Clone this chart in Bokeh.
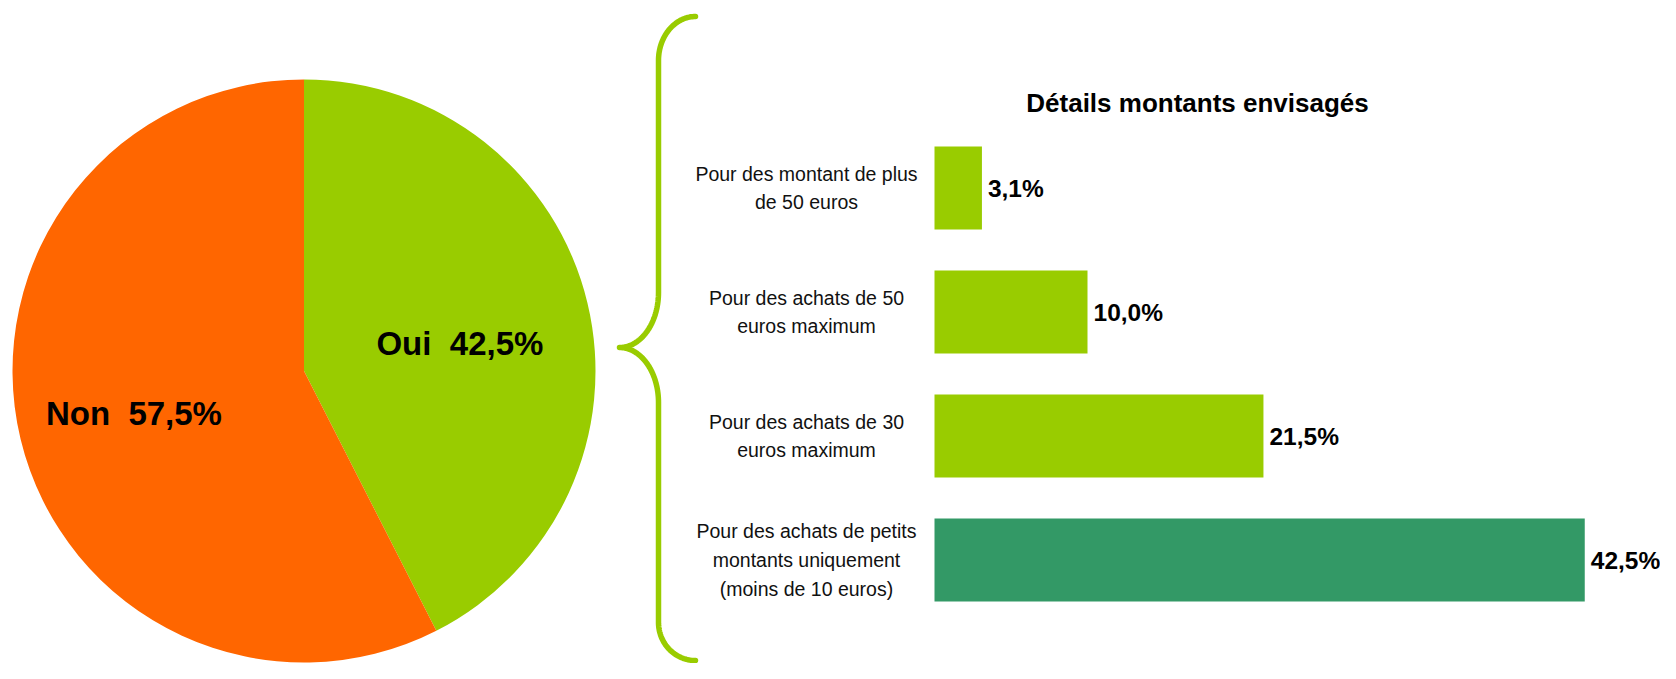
import numpy as np
from bokeh.plotting import figure
from bokeh.models import Range1d, ColumnDataSource
from bokeh.layouts import row
from bokeh.core.properties import value
from bokeh.embed import file_html
from bokeh.resources import INLINE

# ---------------- data ----------------
pie_labels = ["Oui", "Non"]
pie_values = [42.5, 57.5]
pie_colors = ["#99CC00", "#FF6600"]

bar_title = "Détails montants envisagés"
bar_categories = [
    "Pour des montant de plus\nde 50 euros",
    "Pour des achats de 50\neuros maximum",
    "Pour des achats de 30\neuros maximum",
    "Pour des achats de petits\nmontants uniquement\n(moins de 10 euros)",
]
bar_values = [3.1, 10.0, 21.5, 42.5]
bar_colors = ["#99CC00", "#99CC00", "#99CC00", "#339966"]

FONT = value("Liberation Sans")
H = 663
CX, CY = 303.5, 370.5   # pie centre in pixels from top-left
R = 291.5


def fmt(v):
    return f"{v:.1f}%".replace(".", ",")


# ---------------- pie ----------------
WA = 600
pA = figure(width=WA, height=H, x_range=Range1d(-CX, WA - CX),
            y_range=Range1d(CY - H, CY),
            output_backend="svg", toolbar_location=None,
            x_axis_location=None, y_axis_location=None, min_border=0)
pA.outline_line_color = None
pA.xgrid.visible = False
pA.ygrid.visible = False

fr = np.array(pie_values) / sum(pie_values)
cum = np.concatenate([[0.0], np.cumsum(fr)])
start = np.pi / 2 - 2 * np.pi * cum[:-1]
end = np.pi / 2 - 2 * np.pi * cum[1:]
mid = (start + end) / 2
lab_r = np.array([0.55, 0.60]) * R
pie_src = ColumnDataSource(dict(
    start=start, end=end, color=pie_colors,
    lx=lab_r * np.cos(mid), ly=lab_r * np.sin(mid),
    dy=[10, 2],
    txt=[f"{l}\u00a0 {fmt(v)}" for l, v in zip(pie_labels, pie_values)],
))
pA.wedge(x=0, y=0, radius=R, start_angle="start", end_angle="end",
         direction="clock", fill_color="color", line_color=None, source=pie_src)
pA.text(x="lx", y="ly", text="txt", source=pie_src, y_offset="dy",
        text_align="center", text_baseline="middle", text_font=FONT,
        text_font_style="bold", text_font_size="33px", text_color="black")

# ---------------- bars (with brace) ----------------
XB = 600
WB = 1660 - XB
PXU = 15.3      # pixels per percent
X0 = 934 - XB   # pixel position of 0 %
PITCH = 124
TOP = 187.5
y_end = -TOP / PITCH
y_start = y_end + H / PITCH
pB = figure(width=WB, height=H, x_range=Range1d(-X0 / PXU, (WB - X0) / PXU),
            y_range=Range1d(start=y_start, end=y_end),
            output_backend="svg", toolbar_location=None,
            x_axis_location=None, y_axis_location=None, min_border=0)
pB.outline_line_color = None
pB.xgrid.visible = False
pB.ygrid.visible = False

# brace, drawn in the pie's pixel frame
pB.extra_x_ranges = {"px": Range1d(XB - CX, XB + WB - CX)}
pB.extra_y_ranges = {"px": Range1d(CY - H, CY)}


def arc(cx, cy, a, b, t0, t1, n=40):
    t = np.radians(np.linspace(t0, t1, n))
    return cx + a * np.cos(t), cy + b * np.sin(t)


segs = [
    arc(391.5, 310.5, 37, 44, 90, 180),
    arc(315.5, 78.5, 39, 55, 0, -90),
    arc(315.5, -31.5, 39, 55, 90, 0),
    arc(391.5, -251.5, 37, 38, 180, 270),
]
bx = np.concatenate([s[0] for s in segs])
by = np.concatenate([s[1] for s in segs])
pB.line(bx, by, line_color="#99CC00", line_width=5.5, line_cap="round",
        line_join="round", x_range_name="px", y_range_name="px")

ypos = list(range(len(bar_values)))
bsrc = ColumnDataSource(dict(y=ypos, v=bar_values, c=bar_colors,
                             cat=bar_categories, lab=[fmt(v) for v in bar_values],
                             zero=[0] * len(bar_values)))
pB.hbar(y="y", left=0, right="v", height=83 / PITCH, fill_color="c",
        line_color=None, source=bsrc)
pB.text(x="v", y="y", text="lab", source=bsrc, x_offset=6, text_align="left",
        text_baseline="middle", text_font=FONT, text_font_style="bold",
        text_font_size="24.5px", text_color="black")
pB.text(x="zero", y="y", text="cat", source=bsrc, x_offset=-128,
        text_align="center", text_baseline="middle", text_font=FONT,
        text_font_size="19.5px", text_line_height=1.3, text_color="#111111")
pB.text(x=[(1197 - 934) / PXU], y=[y_end + 102 / PITCH], text=[bar_title],
        text_align="center", text_baseline="middle", text_font=FONT,
        text_font_style="bold", text_font_size="26px", text_color="black")

layout = row(pA, pB, spacing=0)
open("out.html", "w").write(file_html(layout, INLINE))
